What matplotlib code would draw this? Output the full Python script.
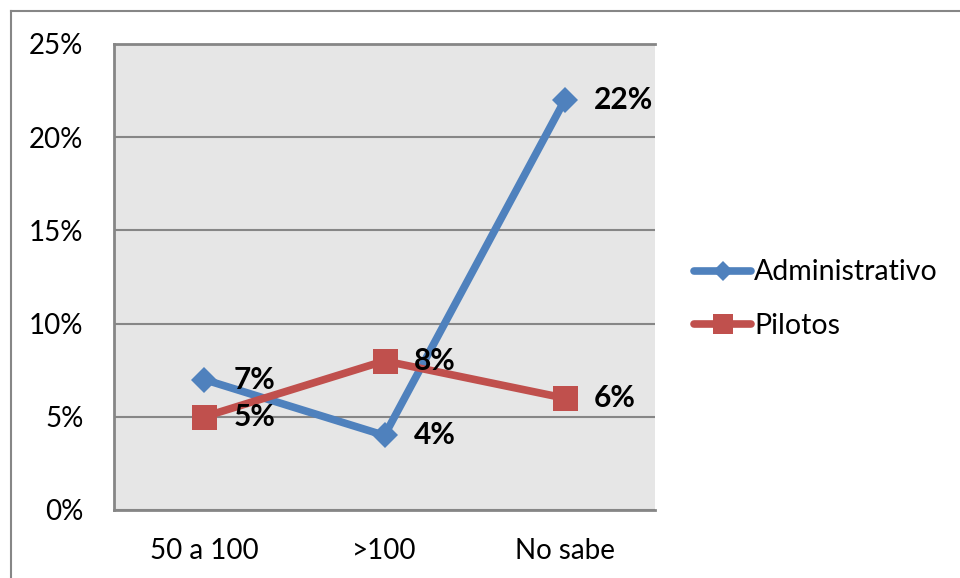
import matplotlib
matplotlib.use("Agg")
import matplotlib.pyplot as plt
from matplotlib.lines import Line2D
from matplotlib.ticker import FuncFormatter

plt.rcParams['font.family'] = ['Lato', 'DejaVu Sans']

# data
categories = ["50 a 100", ">100", "No sabe"]
administrativo = [7, 4, 22]
pilotos = [5, 8, 6]
yticks = [0, 5, 10, 15, 20, 25]

blue = "#4F81BD"
red = "#C0504D"
grid_grey = "#868686"

fig = plt.figure(figsize=(9.6, 5.78), dpi=100)
ax = fig.add_axes([114 / 960, 68 / 578, 541 / 960, 466 / 578])
ax.set_facecolor("#E6E6E6")

x = list(range(len(categories)))
ax.plot(x, administrativo, color=blue, lw=5.5, marker="D", ms=13,
        mec=blue, mew=0, label="Administrativo", solid_capstyle="round")
ax.plot(x, pilotos, color=red, lw=5.5, marker="s", ms=18,
        mec=red, mew=0, label="Pilotos", solid_capstyle="round")

# value labels to the right of each point
for series in (administrativo, pilotos):
    for xi, v in zip(x, series):
        ax.annotate(f"{v}%", (xi, v), xytext=(21, 0), textcoords="offset points",
                    ha="left", va="center", fontsize=21.5, fontweight="bold")

ax.set_xlim(-0.5, 2.5)
ax.set_ylim(0, 25)
ax.set_xticks(x)
ax.set_xticklabels(categories)
ax.set_yticks(yticks)
ax.yaxis.set_major_formatter(FuncFormatter(lambda v, p: f"{v:.0f}%"))
ax.tick_params(axis="both", length=0, labelsize=20)
ax.tick_params(axis="y", pad=22)
ax.tick_params(axis="x", pad=20)

ax.grid(axis="y", color=grid_grey, lw=1.5)
ax.set_axisbelow(True)
for side in ("left", "top", "bottom"):
    ax.spines[side].set_color(grid_grey)
    ax.spines[side].set_linewidth(2)
ax.spines["right"].set_visible(False)

ax.legend(loc="center left", bbox_to_anchor=(680 / 960, 1 - 299 / 578),
          bbox_transform=fig.transFigure, frameon=False, fontsize=20.5,
          handlelength=2.0, handletextpad=0.1, labelspacing=0.95, borderpad=0,
          markerscale=0.8)

# outer chart frame
fig.add_artist(Line2D([11 / 960, 1], [1 - 11 / 578] * 2, color=grid_grey, lw=1.5))
fig.add_artist(Line2D([11 / 960] * 2, [0, 1 - 11 / 578], color=grid_grey, lw=1.5))

fig.savefig("out.png", dpi=100)
